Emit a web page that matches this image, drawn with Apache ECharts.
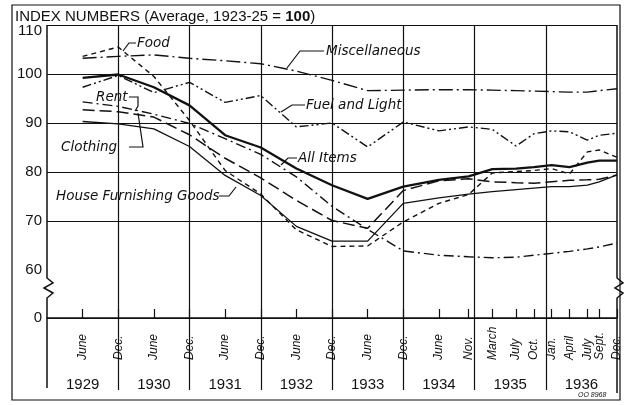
<!DOCTYPE html>
<html><head><meta charset="utf-8">
<script src="https://cdn.jsdelivr.net/npm/echarts@6/dist/echarts.min.js"></script>
<style>html,body{margin:0;padding:0;background:#fff}#c{width:625px;height:405px}</style>
</head><body><div id="c"></div>
<script>
// months counted from Dec 1928 (=0)
const monthPos    = [6, 12, 18, 24, 30, 36, 42, 48, 54, 60, 66, 71, 75, 79, 82, 85, 88, 91, 93, 96];
const monthLabels = ['June','Dec.','June','Dec.','June','Dec.','June','Dec.','June','Dec.','June','Nov.','March','July','Oct.','Jan.','April','July','Sept.','Dec.'];
const yearLabels  = ['1929','1930','1931','1932','1933','1934','1935','1936'];
const yearPos     = [6, 18, 30, 42, 54, 66, 78, 90];
const decPos      = [12, 24, 36, 48, 60, 72, 84];
const yTicks      = [0, 60, 70, 80, 90, 100, 110];

const food      = [103.6,105.5,99.5,90.5,80.3,75.5,68.2,64.8,64.9,69.8,73.6,75.4,79.8,80.1,80.3,80.7,79.6,84.1,84.5,83.0];
const misc      = [103.2,103.6,103.9,103.2,102.7,102.1,100.6,98.7,96.6,96.7,96.8,96.8,96.7,96.6,96.5,96.4,96.3,96.3,96.6,97.0];
const fuel      = [97.3,99.7,96.2,98.3,94.2,95.6,89.2,90.0,85.1,90.2,88.4,89.2,88.7,85.3,87.8,88.4,88.2,86.5,87.5,87.9];
const rent      = [94.3,93.4,91.8,89.9,86.8,83.6,79.0,73.0,68.3,63.9,63.0,62.7,62.5,62.6,63.0,63.4,63.8,64.3,64.7,65.5];
const clothing  = [92.7,92.3,91.2,87.6,82.8,78.8,74.2,70.1,68.5,76.2,78.2,78.6,78.0,77.8,77.7,78.0,78.3,78.4,78.5,79.4];
const allItems  = [99.2,99.9,97.3,93.6,87.5,85.0,80.7,77.3,74.5,77.0,78.4,79.1,80.6,80.7,81.0,81.4,81.0,81.9,82.3,82.3];
const furnish   = [90.3,89.8,88.8,85.2,79.3,75.2,68.9,65.9,65.9,73.6,74.7,75.5,76.0,76.4,76.7,77.0,77.0,77.3,78.0,79.4];

const INK = '#111';
const LF = 'Liberation Sans, Arial, sans-serif';
const DF = 'DejaVu Sans, sans-serif';
function pts(arr){ return monthPos.map((m,i)=>[m, arr[i]]); }
function line(name, arr, width, type, z){
  return {name, type:'line', data: pts(arr), symbol:'none', silent:true, z: z||3,
    xAxisIndex:0, yAxisIndex:0,
    lineStyle:{color:INK, width, type}};
}

const chart = echarts.init(document.getElementById('c'), null, {renderer:'canvas'});
chart.setOption({
  animation:false,
  backgroundColor:'#fff',
  grid:{left:47, right:8, top:25, bottom:87, outerBoundsMode:'none', containLabel:false},
  xAxis:[
    {type:'value', min:0, max:96, position:'bottom',
     axisLine:{show:true, onZero:false, lineStyle:{color:INK, width:1.6}},
     axisTick:{show:true, inside:true, length:9, customValues:monthPos, lineStyle:{color:INK, width:1.2}},
     axisLabel:{show:true, customValues:monthPos, rotate:90, align:'left', margin:42,
       formatter:(v)=>{const i=monthPos.indexOf(v); return i<0?'':monthLabels[i];},
       fontStyle:'italic', fontFamily:LF, fontSize:12, color:INK},
     splitLine:{show:false}},
    {type:'value', min:0, max:96, interval:12, position:'bottom',
     axisLine:{show:false},
     axisTick:{show:true, inside:false, length:72, customValues:decPos, lineStyle:{color:INK, width:1.2}},
     axisLabel:{show:false},
     splitLine:{show:true, lineStyle:{color:INK, width:1.2}}},
    {type:'value', min:0, max:96, position:'bottom',
     axisLine:{show:false}, axisTick:{show:false}, splitLine:{show:false},
     axisLabel:{show:true, customValues:yearPos, margin:59,
       formatter:(v)=>{const i=yearPos.indexOf(v); return i<0?'':yearLabels[i];},
       fontFamily:LF, fontSize:15, color:INK}}
  ],
  yAxis:{type:'value', min:0, max:110, interval:10,
    breaks:[{start:0, end:60, gap:9.8}],
    breakArea:{show:false},
    axisLine:{show:false}, axisTick:{show:false},
    axisLabel:{show:true, margin:5, fontFamily:LF, fontSize:15, color:INK,
      formatter:(v)=> v===110 ? '{t|110}' : (yTicks.indexOf(v)>=0 ? String(v) : ''),
      rich:{t:{fontFamily:LF, fontSize:15, color:INK, padding:[12,0,0,0]}}},
    splitLine:{show:true, lineStyle:{color:INK, width:1.2}}},
  series:[
    line('Miscellaneous', misc, 1.4, [14,4,2,4]),
    line('Fuel and Light', fuel, 1.4, [9,3,2,3,2,3]),
    line('Rent', rent, 1.4, [10,4,2,4]),
    line('Food', food, 1.4, [5,4]),
    line('Clothing', clothing, 1.5, [12,5]),
    line('House Furnishing Goods', furnish, 1.3, 'solid'),
    line('All Items', allItems, 2.3, 'solid', 4)
  ]
});

const xL = chart.convertToPixel({xAxisIndex:0}, 0);
const xR = chart.convertToPixel({xAxisIndex:0}, 96);
const y0 = chart.convertToPixel({yAxisIndex:0}, 0);
const y60 = chart.convertToPixel({yAxisIndex:0}, 60);
const yT = chart.convertToPixel({yAxisIndex:0}, 110);

function pl(points, w){ return {type:'polyline', shape:{points}, style:{stroke:INK, lineWidth:w||1.2, fill:null}, silent:true, z:100}; }
function txt(x, y, text, font){ return {type:'text', x, y, style:{text, font, fill:INK, textVerticalAlign:'middle'}, silent:true, z:100}; }
const IT = 'italic 13.5px ' + DF;

chart.setOption({graphic:[
  {type:'rect', shape:{x:12, y:5, width:608, height:395}, style:{stroke:INK, lineWidth:1.2, fill:'transparent'}, silent:true, z:99},
  pl([[xL,yT],[xL,y60+8],[xL+6,y60+13],[xL-3,y60+18],[xL+6,y60+23],[xL,y60+28],[xL,y0+70]], 1.5),
  pl([[xR,yT],[xR,y60+8],[xR+6,y60+13],[xR-2,y60+18],[xR+6,y60+23],[xR,y60+28],[xR,y0+75]], 1.5),
  {type:'text', x:15, y:17, silent:true, z:100, style:{
    text:'{a|INDEX NUMBERS (Average, 1923-25 = }{b|100}{a|)}', textVerticalAlign:'middle',
    rich:{a:{font:'15px '+LF, fill:INK}, b:{font:'bold 15px '+LF, fill:INK}}}},
  txt(137, 43, 'Food', IT), pl([[136,43],[129,43],[123,51]]),
  txt(326, 51, 'Miscellaneous', IT), pl([[324,51],[300,51],[287,68]]),
  txt(306, 105, 'Fuel and Light', IT), pl([[305,105],[292,105],[281,112]]),
  txt(96, 97, 'Rent', IT), pl([[129,97],[138,97],[138,106],[135,111]]),
  txt(61, 147, 'Clothing', IT), pl([[129,147],[143,147],[138,113]]),
  txt(298, 158, 'All Items', IT), pl([[297,158],[288,158],[281,165]]),
  txt(56, 196, 'House Furnishing Goods', IT), pl([[219,196],[229,196],[236,187]]),
  txt(578, 395, 'OO 8968', 'italic 7px ' + LF)
]});
</script></body></html>
